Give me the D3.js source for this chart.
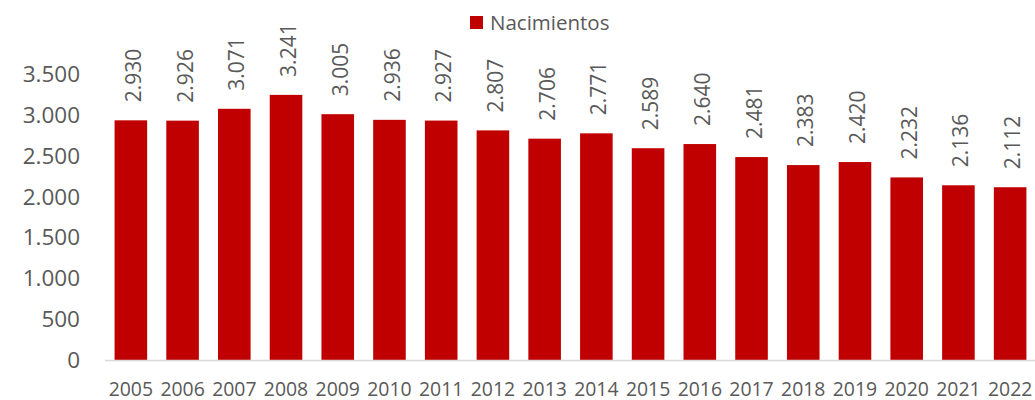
<!DOCTYPE html>
<html>
<head>
<meta charset="utf-8">
<script src="https://cdn.jsdelivr.net/npm/d3@7"></script>
<style>
  body { margin: 0; background: #fff; }
  text { font-family: "Open Sans", sans-serif; fill: #595959; }
</style>
</head>
<body>
<svg width="1035" height="400"></svg>
<script>
// data
var years = ["2005", "2006", "2007", "2008", "2009", "2010", "2011", "2012", "2013",
  "2014", "2015", "2016", "2017", "2018", "2019", "2020", "2021", "2022"];
var nacimientos = [2930, 2926, 3071, 3241, 3005, 2936, 2927, 2807, 2706,
  2771, 2589, 2640, 2481, 2383, 2420, 2232, 2136, 2112];
var yTicks = [0, 500, 1000, 1500, 2000, 2500, 3000, 3500];
var seriesName = "Nacimientos";

var svg = d3.select("svg");
var barColor = "#C00000";

// number format with dot as thousands separator
var esLocale = d3.formatLocale({ decimal: ",", thousands: ".", grouping: [3], currency: ["", "€"] });
var fmt = esLocale.format(",d");

var x = d3.scaleBand()
  .domain(years)
  .range([105, 1036])
  .paddingInner(0.37)
  .paddingOuter(0.185);

var y = d3.scaleLinear()
  .domain([0, 3500])
  .range([360, 73.7]);

// y axis labels
svg.append("g")
  .selectAll("text")
  .data(yTicks)
  .enter()
  .append("text")
  .attr("x", 80)
  .attr("y", function(d) { return y(d); })
  .attr("dy", "0.36em")
  .attr("text-anchor", "end")
  .style("font-size", "22.5px")
  .text(function(d) { return fmt(d); });

// bars
svg.append("g")
  .selectAll("rect")
  .data(nacimientos)
  .enter()
  .append("rect")
  .attr("x", function(d, i) { return x(years[i]); })
  .attr("y", function(d) { return y(d); })
  .attr("width", x.bandwidth())
  .attr("height", function(d) { return y(0) - y(d); })
  .attr("fill", barColor);

// baseline
svg.append("line")
  .attr("x1", 105)
  .attr("x2", 1035)
  .attr("y1", y(0) + 0.5)
  .attr("y2", y(0) + 0.5)
  .attr("stroke", "#D9D9D9")
  .attr("stroke-width", 1.5);

// x axis labels
svg.append("g")
  .selectAll("text")
  .data(years)
  .enter()
  .append("text")
  .attr("x", function(d) { return x(d) + x.bandwidth() / 2; })
  .attr("y", 395.5)
  .attr("text-anchor", "middle")
  .style("font-size", "19.4px")
  .text(function(d) { return d; });

// rotated value labels above the bars
svg.append("g")
  .selectAll("text")
  .data(nacimientos)
  .enter()
  .append("text")
  .attr("transform", function(d, i) {
    var cx = x(years[i]) + x.bandwidth() / 2 + 2.5;
    return "translate(" + cx + "," + (y(d) - 18) + ") rotate(-90)";
  })
  .attr("dy", "0.36em")
  .attr("text-anchor", "start")
  .style("font-size", "21px")
  .text(function(d) { return fmt(d); });

// legend
var legend = svg.append("g").attr("transform", "translate(470,16)");
legend.append("rect")
  .attr("width", 13)
  .attr("height", 13)
  .attr("fill", barColor);
legend.append("text")
  .attr("x", 20)
  .attr("y", 6.5)
  .attr("dy", "0.36em")
  .style("font-size", "20.5px")
  .text(seriesName);
</script>
</body>
</html>
